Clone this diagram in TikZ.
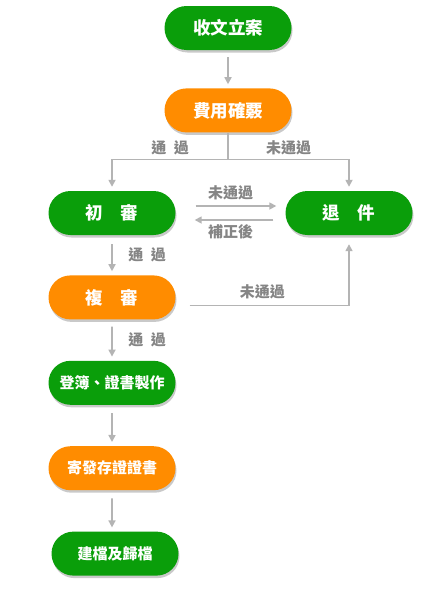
\documentclass[tikz,border=0pt]{standalone}
\usepackage{fontspec}
\setmainfont{Noto Sans CJK TC}
\usetikzlibrary{arrows.meta,positioning,calc,shapes.misc,shadows}
\definecolor{flowgreen}{HTML}{0A9E0A}
\definecolor{floworange}{HTML}{FF8C00}
\definecolor{flowgrey}{HTML}{B4B4B4}
\definecolor{lblgrey}{HTML}{858585}
\tikzset{
  box/.style        = {rounded rectangle, minimum width=131pt, minimum height=44pt,
                       inner sep=2pt, text=white, font=\fontsize{17.5}{20}\selectfont\bfseries,
                       drop shadow={shadow xshift=1pt, shadow yshift=-2.5pt, opacity=0.35, fill=black!60}},
  gbox/.style       = {box, fill=flowgreen},
  obox/.style       = {box, fill=floworange},
  small/.style      = {font=\fontsize{15}{18}\selectfont\bfseries},
  sig/.style        = {-{Triangle[length=7pt, width=7pt]}, line width=1.6pt, draw=flowgrey, shorten >=4pt},
  wire/.style       = {line width=1.6pt, draw=flowgrey},
  lbl/.style        = {font=\fontsize{15}{18}\selectfont\bfseries, text=lblgrey, inner sep=1.5pt},
  node distance     = 41pt,
}
\begin{document}
\begin{tikzpicture}[x=1pt, y=-1pt]
  \useasboundingbox[fill=white] (0,0) rectangle (443,589);
  \node[gbox] (intake) at (228,28) {收文立案};
  \node[obox, below=38pt of intake] (fee) {費用確覈};
  \node[gbox] (first) at (112,213) {初\hspace{1em}審};
  \node[gbox] (reject) at (349,213) {退\hspace{1em}件};
  \node[obox, below=40pt of first] (second) {複\hspace{1em}審};
  \node[gbox, small, below=41pt of second] (register) {登簿、證書製作};
  \node[obox, small, below=41pt of register] (mail) {寄發存證證書};
  \node[gbox, small, below=41pt of mail, xshift=3pt] (archive) {建檔及歸檔};
  \draw[sig, shorten <=7pt] (intake) -- (fee);
  % fee check splits two ways
  \coordinate (split) at ($(fee.south)+(0,27)$);
  \draw[wire] (fee.south) -- (split);
  \draw[sig] (split) -| (first) node[lbl, pos=0.25, above=2pt] {通\hspace{0.5em}過};
  \draw[sig] (split) -| (reject) node[lbl, pos=0.25, above=2pt] {未通過};
  % first review and return
  \draw[sig, shorten <=20pt, shorten >=9pt] ([yshift=7pt]first.east) -- ([yshift=7pt]reject.west)
    node[lbl, midway, above=4pt] {未通過};
  \draw[sig, shorten <=12pt, shorten >=19pt] ([yshift=-7pt]reject.west) -- ([yshift=-7pt]first.east)
    node[lbl, midway, below=2pt] {補正後};
  \draw[sig, shorten <=9pt] (first) -- (second) node[lbl, midway, right=14pt] {通\hspace{0.5em}過};
  \draw[sig, shorten <=14pt, shorten >=9pt] ([yshift=-8pt]second.east) -| (reject.south)
    node[lbl, pos=0.25, above=4pt] {未通過};
  \draw[sig, shorten <=7pt] (second) -- (register) node[lbl, midway, right=14pt] {通\hspace{0.5em}過};
  % issuing and archiving
  \draw[sig, shorten <=8pt] (register) -- (mail);
  \draw[sig, shorten <=8pt] (mail) -- (archive.north -| mail);
\end{tikzpicture}
\end{document}
